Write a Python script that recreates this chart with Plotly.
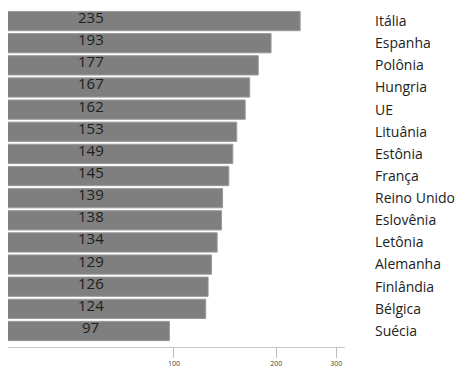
import plotly.graph_objects as go

countries = ["Itália", "Espanha", "Polônia", "Hungria", "UE", "Lituânia", "Estônia",
             "França", "Reino Unido", "Eslovênia", "Letônia", "Alemanha", "Finlândia",
             "Bélgica", "Suécia"]
values = [235, 193, 177, 167, 162, 153, 149, 145, 139, 138, 134, 129, 126, 124, 97]
tick_vals = [100, 200, 300]
tick_text = ["100", "200", "300"]

fig = go.Figure()
fig.add_trace(go.Bar(
    x=values, y=countries, orientation="h",
    marker=dict(color="#7f7f7f", line=dict(color="#9a9a9a", width=1)),
    hoverinfo="x+y",
))

for c, v in zip(countries, values):
    fig.add_annotation(x=0.245, xref="paper", y=c, yref="y", text=str(v),
                       showarrow=False, yshift=4, xanchor="center",
                       font=dict(family="Open Sans", size=15, color="#1e1e1e"))

fig.update_layout(
    width=466, height=369,
    margin=dict(l=8, r=121, t=10, b=22),
    paper_bgcolor="white", plot_bgcolor="white",
    bargap=0.13,
    showlegend=False,
    xaxis=dict(type="log", range=[1.512, 2.503],
               tickvals=tick_vals, ticktext=tick_text,
               ticks="outside", ticklen=10, tickcolor="#bdbdbd", tickwidth=1,
               showline=True, linecolor="#c8c8c8", linewidth=1,
               showgrid=False, zeroline=False, automargin=False,
               tickfont=dict(family="Open Sans", size=7, color="#444")),
    yaxis=dict(categoryorder="array", categoryarray=countries, autorange="reversed",
               side="right", ticks="", showline=False, showgrid=False,
               ticklabelstandoff=29, automargin=False,
               tickfont=dict(family="Open Sans", size=14, color="#222")),
)

fig.write_html("out.html")
